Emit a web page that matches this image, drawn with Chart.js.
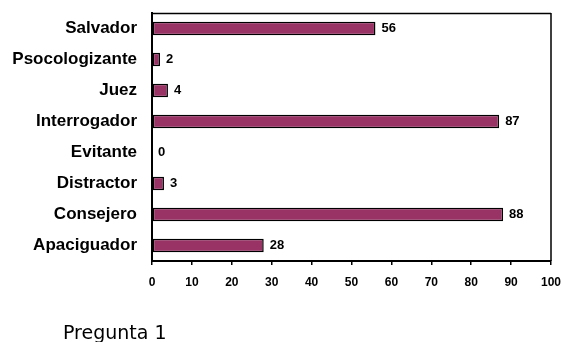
<!DOCTYPE html>
<html>
<head>
<meta charset="utf-8">
<script src="https://cdn.jsdelivr.net/npm/chart.js@4.4.0/dist/chart.umd.min.js"></script>
<style>
  html, body { margin: 0; padding: 0; background: #fff; }
  #wrap { position: relative; width: 563px; height: 342px; overflow: hidden; }
  canvas { position: absolute; left: 0; top: 0; }
  #title { position: absolute; left: 63px; top: 321px; font-family: "DejaVu Sans", Verdana, sans-serif; font-size: 19px; line-height: 22px; color: #000; white-space: nowrap; }
</style>
</head>
<body>
<div id="wrap">
  <canvas id="c" width="563" height="342"></canvas>
  <div id="title">Pregunta 1</div>
</div>
<script>
const categories = ["Salvador", "Psocologizante", "Juez", "Interrogador", "Evitante", "Distractor", "Consejero", "Apaciguador"];
const values = [56, 2, 4, 87, 0, 3, 88, 28];
const xTicks = [0, 10, 20, 30, 40, 50, 60, 70, 80, 90, 100];

const FONT = '"Liberation Sans", Arial, sans-serif';

const labelPlugin = {
  id: 'valueLabels',
  afterDatasetsDraw(chart) {
    const ctx = chart.ctx;
    const meta = chart.getDatasetMeta(0);
    ctx.save();
    ctx.font = 'bold 13px ' + FONT;
    ctx.fillStyle = '#000';
    ctx.textAlign = 'left';
    ctx.textBaseline = 'middle';
    meta.data.forEach((bar, i) => {
      ctx.fillText(String(values[i]), bar.x + 6, bar.y);
    });
    ctx.restore();
  }
};
const boxPlugin = {
  id: 'box',
  afterDraw(chart) {
    const a = chart.chartArea;
    const ctx = chart.ctx;
    ctx.save();
    ctx.strokeStyle = '#000';
    ctx.lineWidth = 1.5;
    ctx.beginPath();
    ctx.moveTo(a.left, a.top + 0.5);
    ctx.lineTo(a.right, a.top + 0.5);
    ctx.moveTo(a.right, a.top);
    ctx.lineTo(a.right, a.bottom);
    ctx.stroke();
    ctx.restore();
  }
};

new Chart(document.getElementById('c'), {
  type: 'bar',
  data: {
    labels: categories,
    datasets: [{
      data: values,
      backgroundColor: '#993366',
      borderColor: '#000',
      borderWidth: 1.5,
      borderSkipped: false,
      categoryPercentage: 1,
      barPercentage: 0.43
    }]
  },
  options: {
    indexAxis: 'y',
    responsive: false,
    animation: false,
    layout: { padding: { top: 13, right: 12, bottom: 51, left: 0 } },
    plugins: { legend: { display: false }, tooltip: { enabled: false } },
    scales: {
      x: {
        min: 0, max: 100,
        afterBuildTicks(scale) { scale.ticks = xTicks.map(v => ({ value: v })); },
        afterFit(scale) { scale.height = 30; scale.paddingLeft = 0; scale.paddingRight = 0; },
        grid: { display: true, drawOnChartArea: false, drawTicks: true, tickLength: 4, color: '#000', lineWidth: 1.5 },
        border: { display: true, color: '#000', width: 2 },
        ticks: { padding: 10, color: '#000', font: { family: FONT, size: 12, weight: 'bold' }, maxRotation: 0, autoSkip: false }
      },
      y: {
        afterFit(scale) { scale.width = 152; scale.paddingTop = 0; scale.paddingBottom = 0; },
        grid: { display: false, drawTicks: false, tickLength: 0 },
        border: { display: true, color: '#000', width: 2 },
        ticks: { padding: 15, color: '#000', font: { family: FONT, size: 17, weight: 'bold' } }
      }
    }
  },
  plugins: [labelPlugin, boxPlugin]
});
</script>
</body>
</html>
